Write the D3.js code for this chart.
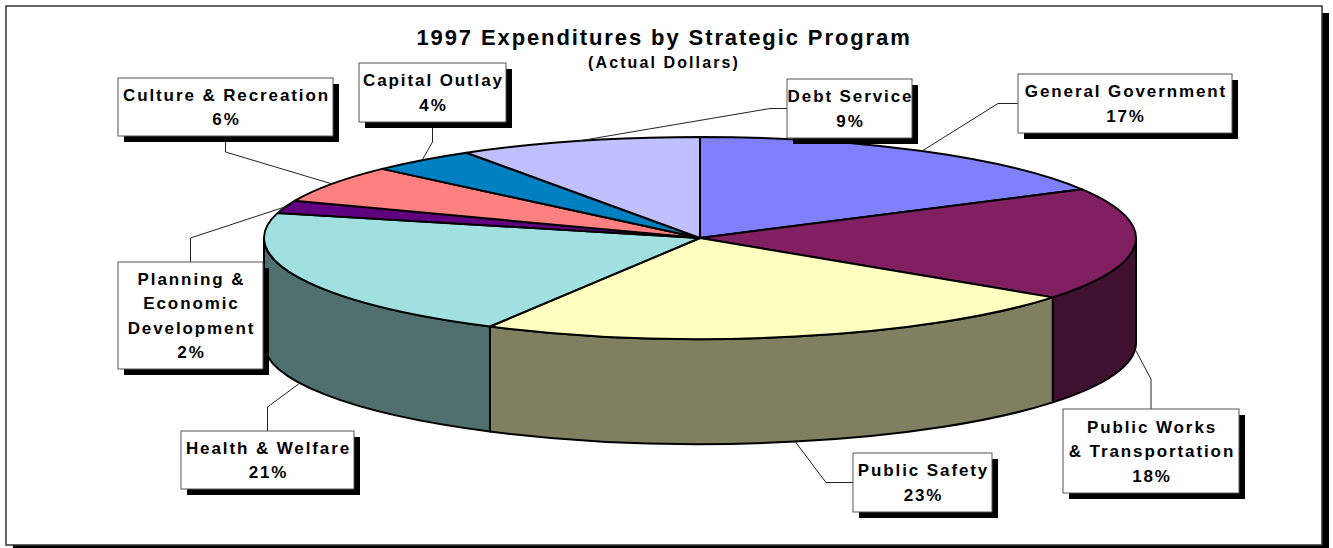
<!DOCTYPE html>
<html>
<head>
<meta charset="utf-8">
<script src="https://cdn.jsdelivr.net/npm/d3@7"></script>
<style>
  html, body { margin: 0; padding: 0; background: #fff; }
  svg { display: block; }
  text { font-family: "Liberation Sans", Arial, sans-serif; font-weight: bold; fill: #000; }
</style>
</head>
<body>
<svg id="chart" width="1333" height="548"></svg>
<script>
// ---- data ----
const categories = [
  "General Government",
  "Public Works & Transportation",
  "Public Safety",
  "Health & Welfare",
  "Planning & Economic Development",
  "Culture & Recreation",
  "Capital Outlay",
  "Debt Service"
];
const shares = [17, 18, 23, 21, 2, 6, 4, 9];   // percent of total
const title = "1997 Expenditures by Strategic Program";
const subtitle = "(Actual Dollars)";

// ---- styles ----
const topColors  = ["#8080FF", "#802060", "#FFFFC0", "#A0E0E0", "#600080", "#FF8080", "#0080C0", "#C0C0FF"];
const sideColors = ["#404080", "#401030", "#808060", "#507070", "#300040", "#804040", "#004060", "#606080"];

// label text broken into lines (percentage appended below)
const labelLines = {
  "Public Works & Transportation": ["Public Works", "& Transportation"],
  "Planning & Economic Development": ["Planning &", "Economic", "Development"]
};

// callout boxes: position, which edge the leader leaves from, elbow length,
// and whether the leader meets the lower rim of the pie
const callouts = {
  "General Government":              { x: 1018, y: 74,  w: 214, h: 59,  edge: "left",   elbow: 20, rim: "top" },
  "Public Works & Transportation":   { x: 1063, y: 409, w: 176, h: 84,  edge: "top",    elbow: 30, rim: "bottom" },
  "Public Safety":                   { x: 853,  y: 453, w: 139, h: 59,  edge: "left",   elbow: 27, rim: "bottom" },
  "Health & Welfare":                { x: 181,  y: 431, w: 173, h: 58,  edge: "top",    elbow: 24, rim: "bottom" },
  "Planning & Economic Development": { x: 118,  y: 262, w: 145, h: 107, edge: "top",    elbow: 24, rim: "top" },
  "Culture & Recreation":            { x: 118,  y: 78,  w: 215, h: 58,  edge: "bottom", elbow: 16, rim: "top" },
  "Capital Outlay":                  { x: 359,  y: 63,  w: 147, h: 59,  edge: "bottom", elbow: 20, rim: "top" },
  "Debt Service":                    { x: 787,  y: 79,  w: 125, h: 59,  edge: "left",   elbow: 17, rim: "top" }
};

// ---- geometry ----
const pieCx = 700, pieCy = 238, rx = 436, ry = 101, depth = 105;

const svg = d3.select("#chart");

// outer frame with drop shadow
svg.append("rect").attr("x", 13).attr("y", 13).attr("width", 1316).attr("height", 539).attr("fill", "#000");
svg.append("rect").attr("x", 6).attr("y", 6).attr("width", 1316).attr("height", 539)
  .attr("fill", "#fff").attr("stroke", "#333").attr("stroke-width", 1.5);

// titles
svg.append("text").attr("x", 664).attr("y", 45).attr("text-anchor", "middle")
  .style("font-size", "22px").style("letter-spacing", "1.9px").text(title);
svg.append("text").attr("x", 664).attr("y", 68).attr("text-anchor", "middle")
  .style("font-size", "16px").style("letter-spacing", "2.1px").text(subtitle);

// pie layout: start at 12 o'clock, clockwise, data order kept
const pie = d3.pie().sort(null).value(d => d.value).startAngle(0).endAngle(2 * Math.PI);
const arcs = pie(categories.map((c, i) => ({ name: c, value: shares[i], i })));

// projection of a rim angle onto the tilted ellipse
const rim = (a, level) => [pieCx + rx * Math.sin(a), pieCy - ry * Math.cos(a) + (level === "bottom" ? depth : 0)];

function topPath(d) {
  const p0 = rim(d.startAngle), p1 = rim(d.endAngle);
  const large = d.endAngle - d.startAngle > Math.PI ? 1 : 0;
  return `M${pieCx},${pieCy}L${p0[0]},${p0[1]}A${rx},${ry} 0 ${large} 1 ${p1[0]},${p1[1]}Z`;
}
function sidePath(b0, b1) {
  const t0 = rim(b0), t1 = rim(b1), u0 = rim(b0, "bottom"), u1 = rim(b1, "bottom");
  return `M${t0[0]},${t0[1]}A${rx},${ry} 0 0 1 ${t1[0]},${t1[1]}L${u1[0]},${u1[1]}` +
         `A${rx},${ry} 0 0 0 ${u0[0]},${u0[1]}Z`;
}

const pieG = svg.append("g");

// front walls (visible between 90 and 270 degrees)
arcs.forEach(d => {
  const b0 = Math.max(d.startAngle, Math.PI / 2), b1 = Math.min(d.endAngle, 3 * Math.PI / 2);
  if (b1 > b0) {
    pieG.append("path").attr("d", sidePath(b0, b1))
      .attr("fill", sideColors[d.data.i]).attr("stroke", "#000").attr("stroke-width", 2)
      .attr("stroke-linejoin", "round");
  }
});

// top faces
pieG.selectAll("path.top").data(arcs).join("path").attr("class", "top")
  .attr("d", topPath)
  .attr("fill", d => topColors[d.data.i])
  .attr("stroke", "#000").attr("stroke-width", 2).attr("stroke-linejoin", "round");

// callouts
const calloutG = svg.append("g");
arcs.forEach(d => {
  const c = callouts[d.data.name];
  const mid = (d.startAngle + d.endAngle) / 2;
  const anchor = rim(mid, c.rim);
  let start, elbow;
  if (c.edge === "left") {
    start = [c.x, c.y + c.h / 2]; elbow = [c.x - c.elbow, start[1]];
  } else if (c.edge === "top") {
    start = [c.x + c.w / 2, c.y]; elbow = [start[0], c.y - c.elbow];
  } else {
    start = [c.x + c.w / 2, c.y + c.h]; elbow = [start[0], c.y + c.h + c.elbow];
  }
  calloutG.append("path").attr("d", d3.line()([start, elbow, anchor]))
    .attr("fill", "none").attr("stroke", "#222").attr("stroke-width", 1);

  calloutG.append("rect").attr("x", c.x + 6).attr("y", c.y + 6).attr("width", c.w).attr("height", c.h).attr("fill", "#000");
  calloutG.append("rect").attr("x", c.x).attr("y", c.y).attr("width", c.w).attr("height", c.h)
    .attr("fill", "#fff").attr("stroke", "#555").attr("stroke-width", 1);

  const lines = (labelLines[d.data.name] || [d.data.name]).concat([`${d.data.value}%`]);
  const step = 24.5;
  const cy = c.y + c.h / 2;
  lines.forEach((t, k) => {
    calloutG.append("text")
      .attr("x", c.x + c.w / 2 + 1)
      .attr("y", cy + (k - (lines.length - 1) / 2) * step)
      .attr("dy", "0.36em")
      .attr("text-anchor", "middle")
      .style("font-size", "17px").style("letter-spacing", "1.9px")
      .text(t);
  });
});
</script>
</body>
</html>
